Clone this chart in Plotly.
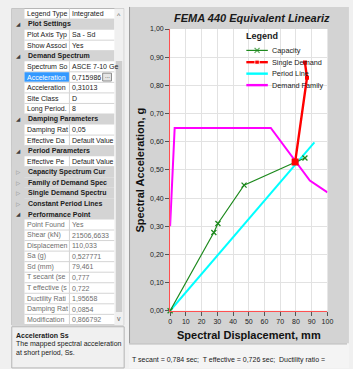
import plotly.graph_objects as go

# ---------------------------------------------------------------
# Pushover curve in ADRS format (Sd in mm, Sa in g)
# ---------------------------------------------------------------
capacity_sd = [0.0, 27.8, 30.4, 47.0, 79.5, 85.7]
capacity_sa = [0.0, 0.278, 0.310, 0.446, 0.527, 0.542]

single_demand_sd = [85.7, 87.0, 79.461]
single_demand_sa = [0.881, 0.827, 0.527771]

period_line_sd = [0.0, 91.7]
period_line_sa = [0.0, 0.598]

demand_family_sd = [0.0, 2.9, 64.0, 88.8, 100.0]
demand_family_sa = [0.30, 0.649, 0.649, 0.462, 0.420]

# performance point (also listed in the property grid)
perf_sd = 79.461
perf_sa = 0.527771

x_ticks = [0, 10, 20, 30, 40, 50, 60, 70, 80, 90, 100]
y_ticks = [0.0, 0.1, 0.2, 0.3, 0.4, 0.5, 0.6, 0.7, 0.8, 0.9, 1.0]

legend_names = ["Capacity", "Single Demand", "Period Line", "Demand Family"]
legend_colors = ["#1e8a1e", "#ff0000", "#00ffff", "#ff00ff"]

# property grid rows: (name, value, kind)
def dec(v):
    return str(v).replace(".", ",")

grid_rows = [
    ("Legend Type", "Integrated", "prop"),
    ("Plot Settings", "", "cat"),
    ("Plot Axis Typ", "Sa - Sd", "prop"),
    ("Show Associ", "Yes", "prop"),
    ("Demand Spectrum", "", "cat"),
    ("Spectrum So", "ASCE 7-10 Ge", "prop"),
    ("Acceleration", "0,715986", "sel"),
    ("Acceleration", "0,31013", "prop"),
    ("Site Class", "D", "prop"),
    ("Long Period.", "8", "prop"),
    ("Damping Parameters", "", "cat"),
    ("Damping Rat", "0,05", "prop"),
    ("Effective Da", "Default Value", "prop"),
    ("Period Parameters", "", "cat"),
    ("Effective Pe", "Default Value", "prop"),
    ("Capacity Spectrum Cur", "", "catc"),
    ("Family of Demand Spec", "", "catc"),
    ("Single Demand Spectru", "", "catc"),
    ("Constant Period Lines", "", "catc"),
    ("Performance Point", "", "cat"),
    ("Point Found", "Yes", "ro"),
    ("Shear (kN)", "21506,6633", "ro"),
    ("Displacemen", "110,033", "ro"),
    ("Sa (g)", dec(perf_sa), "ro"),
    ("Sd (mm)", dec(perf_sd), "ro"),
    ("T secant (se", "0,777", "ro"),
    ("T effective (s", "0,722", "ro"),
    ("Ductility Rati", "1,95658", "ro"),
    ("Damping Rat", "0,0854", "ro"),
    ("Modification", "0,866792", "ro"),
]

status_text = "T secant = 0,784 sec;  T effective = 0,726 sec;  Ductility ratio ="

# ---------------------------------------------------------------
W, H = 353, 369
FONT = "Liberation Sans, Arial, sans-serif"

shapes = []
annotations = []


def rect(x0, y0, x1, y1, fill, line=None, lw=0):
    shapes.append(dict(type="rect", xref="paper", yref="paper",
                       x0=x0 / W, x1=x1 / W, y0=1 - y1 / H, y1=1 - y0 / H,
                       fillcolor=fill, line=dict(color=line or fill, width=lw),
                       layer="below"))


def line(x0, y0, x1, y1, color, lw=1):
    shapes.append(dict(type="line", xref="paper", yref="paper",
                       x0=x0 / W, x1=x1 / W, y0=1 - y0 / H, y1=1 - y1 / H,
                       line=dict(color=color, width=lw), layer="below"))


def txt(x, y, s, size=7, color="#1a1a1a", anchor="left", angle=0, family=FONT):
    annotations.append(dict(x=x / W, y=1 - y / H, xref="paper", yref="paper",
                            text=s, showarrow=False, xanchor=anchor,
                            yanchor="middle", textangle=angle, borderpad=0,
                            font=dict(size=size, color=color, family=family)))


# window background
rect(0, 0, W, H, "#f0f0f0")

# ---------------- property grid ----------------
GX0, GUT, COL, GX1, SB1 = 10, 23, 69, 115, 124.5
ROW0, PITCH = 10.0, 10.75
grid_top = ROW0 - PITCH / 2
grid_bot = ROW0 + PITCH * (len(grid_rows) - 0.5)
rect(GX0, grid_top, SB1, grid_bot, "#ffffff", "#b4b4b4", 1)
rect(GX0, grid_top, GUT, grid_bot, "#d4d4d4")

for i, (name, value, kind) in enumerate(grid_rows):
    cy = ROW0 + i * PITCH
    top, bot = cy - PITCH / 2, cy + PITCH / 2
    if kind in ("cat", "catc"):
        rect(GX0, top, GX1, bot, "#d4d4d4")
        glyph = "◢" if kind == "cat" else "▷"
        txt(13.5, cy, glyph, size=5.5, color="#404040" if kind == "cat" else "#8a8a8a",
            family="DejaVu Sans")
        txt(26, cy, "<b>" + name + "</b>", size=7, color="#202020")
    else:
        if kind == "sel":
            rect(GUT, top + 0.5, COL, bot - 0.5, "#3399ff")
        line(GUT, bot, GX1, bot, "#d4d4d4", 1)
        line(COL, top, COL, bot, "#d4d4d4", 1)
        name_col = "#ffffff" if kind == "sel" else ("#6e6e6e" if kind == "ro" else "#1a1a1a")
        val_col = "#6e6e6e" if kind == "ro" else "#1a1a1a"
        txt(25, cy, name, size=7, color=name_col)
        txt(71, cy, value, size=7, color=val_col)
        if kind == "sel":
            rect(103, cy - 4, 112, cy + 4, "#e6e6e6", "#8a8a8a", 1)
            txt(107.5, cy - 1, "...", size=6, color="#202020", anchor="center")

# scrollbar
rect(GX1, grid_top, SB1, grid_bot, "#f0f0f0")
rect(GX1 + 1.5, 58, SB1 - 1.5, 314, "#cdcdcd")
txt(119.8, 12, "^", size=7, color="#606060", anchor="center")
txt(119.8, 321, "v", size=7, color="#606060", anchor="center")

# description box
rect(GX0, 329, 125, H + 2, "#f0f0f0", "#b4b4b4", 1)
txt(13, 337.5, "<b>Acceleration Ss</b>", size=7, color="#1a1a1a")
txt(13, 347, "The mapped spectral acceleration", size=7, color="#1a1a1a")
txt(13, 356, "at short period, Ss.", size=7, color="#1a1a1a")

# ---------------- chart panel ----------------
rect(130, 3, W + 2, 346, "#d3d3d3")
line(130.5, 3, 130.5, 346, "#9a9a9a", 1)
rect(130, 346, W + 2, H + 2, "#f4f4f4")
line(130, 346.5, W, 346.5, "#b0b0b0", 1)
txt(132.5, 362.5, status_text, size=7, color="#1a1a1a")

# plot area
PX0, PX1, PY0, PY1 = 172, 333, 25.5, 312.7
rect(PX0, PY0, PX1, PY1, "#ffffff")

txt(175, 14, "<b><i>FEMA 440 Equivalent Lineariz</i></b>", size=11, color="#1a1a1a")
txt(252.5, 337, "<b>Spectral Displacement, mm</b>", size=11, color="#111111", anchor="center")
txt(141, 169, "<b>Spectral Acceleration, g</b>", size=11, color="#111111",
    anchor="center", angle=-90)

# legend labels
LEG_Y = [47.3, 59.3, 71, 82.7]
txt(249, 33, "<b>Legend</b>", size=9, color="#1a1a1a")
for name, ly in zip(legend_names, LEG_Y):
    txt(275.5, ly, name, size=7.3, color="#1a1a1a")

# ---------------------------------------------------------------
fig = go.Figure()

fig.add_trace(go.Scatter(
    x=demand_family_sd, y=demand_family_sa, mode="lines",
    line=dict(color=legend_colors[3], width=2), cliponaxis=True,
    name="Demand Family", showlegend=False))
fig.add_trace(go.Scatter(
    x=period_line_sd, y=period_line_sa, mode="lines",
    line=dict(color=legend_colors[2], width=2),
    name="Period Line", showlegend=False))
fig.add_trace(go.Scatter(
    x=capacity_sd, y=capacity_sa, mode="lines+markers",
    line=dict(color=legend_colors[0], width=1.2),
    marker=dict(symbol="x-thin", size=5, line=dict(color=legend_colors[0], width=1.3)),
    cliponaxis=False, name="Capacity", showlegend=False))
fig.add_trace(go.Scatter(
    x=single_demand_sd, y=single_demand_sa, mode="lines+markers",
    line=dict(color=legend_colors[1], width=2.4),
    marker=dict(symbol="square", size=4, color=legend_colors[1]),
    name="Single Demand", showlegend=False))
fig.add_trace(go.Scatter(
    x=[perf_sd], y=[perf_sa], mode="markers",
    marker=dict(symbol="square", size=7, color=legend_colors[1]),
    name="Performance Point", showlegend=False))

# legend samples drawn in a pixel-space overlay
sample_x = [250, 261, 272]
sample_styles = [
    dict(symbol="x-thin", size=[0, 5, 0], line=dict(color=legend_colors[0], width=1.3)),
    dict(symbol="square", size=[0, 4.5, 0], color=legend_colors[1]),
    None,
    None,
]
sample_widths = [1.2, 2.4, 2.4, 2.4]
for col, ly, st, lw in zip(legend_colors, LEG_Y, sample_styles, sample_widths):
    fig.add_trace(go.Scatter(
        x=sample_x, y=[ly, ly, ly], xaxis="x2", yaxis="y2",
        mode="lines+markers" if st else "lines",
        line=dict(color=col, width=lw), marker=st,
        hoverinfo="skip", showlegend=False))

fig.update_layout(
    width=W, height=H,
    margin=dict(l=0, r=0, t=0, b=0),
    paper_bgcolor="#f0f0f0",
    plot_bgcolor="rgba(0,0,0,0)",
    separators=",.",
    showlegend=False,
    font=dict(family=FONT, size=7, color="#222222"),
    shapes=shapes,
    annotations=annotations,
    xaxis=dict(
        domain=[PX0 / W, PX1 / W], range=[0, 100], tickvals=x_ticks,
        tickformat="d", showgrid=True, gridcolor="#e2e2e2", gridwidth=1,
        zeroline=False, showline=True, linecolor="#ff5050", linewidth=1,
        ticks="outside", ticklen=4, tickcolor="#555555", tickwidth=1,
        tickfont=dict(size=7, color="#222222", family=FONT), fixedrange=True,
    ),
    yaxis=dict(
        domain=[1 - PY1 / H, 1 - PY0 / H], range=[0, 1.0], tickvals=y_ticks,
        tickformat=".2f", showgrid=True, gridcolor="#e2e2e2", gridwidth=1,
        zeroline=False, showline=True, linecolor="#ff5050", linewidth=1,
        ticks="outside", ticklen=4, tickcolor="#555555", tickwidth=1,
        tickfont=dict(size=7, color="#222222", family=FONT), fixedrange=True,
    ),
    xaxis2=dict(domain=[0, 1], range=[0, W], anchor="y2", visible=False,
                fixedrange=True),
    yaxis2=dict(domain=[0, 1], range=[H, 0], anchor="x2", visible=False,
                fixedrange=True),
)

fig.write_html("out.html")
